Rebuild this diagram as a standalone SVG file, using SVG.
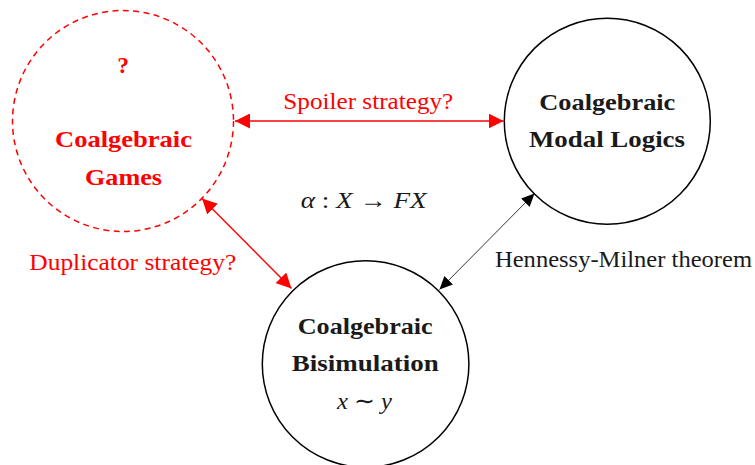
<svg xmlns="http://www.w3.org/2000/svg" width="755" height="465" viewBox="0 0 755 465">
  <style>
    .lbl { font-family: "Liberation Serif", "Times New Roman", serif; font-size: 23.5px; }
    .bold { font-weight: bold; }
    .it { font-style: italic; }
    .red { fill: #ff0000; }
    .blk { fill: #1a1a1a; }
    .node { fill: none; stroke: #000; stroke-width: 1.5; }
    .node-dashed { fill: none; stroke: #ff0000; stroke-width: 1.5; stroke-dasharray: 6 4.4; }
    .edge-red { stroke: #ff0000; stroke-width: 1.4; fill: none; }
    .edge-blk { stroke: #000; stroke-width: 0.8; fill: none; }
  </style>
  <defs>
    <marker id="arrow-red" markerUnits="userSpaceOnUse" markerWidth="15" markerHeight="15" refX="15" refY="7.5" orient="auto-start-reverse">
      <path d="M0,0 L15,7.5 L0,15 Z" fill="#ff0000"/>
    </marker>
    <marker id="arrow-blk" markerUnits="userSpaceOnUse" markerWidth="13" markerHeight="12" refX="13" refY="6" orient="auto-start-reverse">
      <path d="M0,0 L13,6 L0,12 Z" fill="#000"/>
    </marker>
  </defs>
  <rect width="755" height="465" fill="#ffffff"/>

  <!-- connectors -->
  <g id="connectors">
    <line class="edge-red" x1="235" y1="121" x2="503.5" y2="121" marker-start="url(#arrow-red)" marker-end="url(#arrow-red)"/>
    <line class="edge-red" x1="202" y1="198.5" x2="291.5" y2="288.5" marker-start="url(#arrow-red)" marker-end="url(#arrow-red)"/>
    <line class="edge-blk" x1="439.5" y1="289.5" x2="534.5" y2="193.5" marker-start="url(#arrow-blk)" marker-end="url(#arrow-blk)"/>
    <text class="lbl red" x="283.3" y="109" textLength="170" lengthAdjust="spacingAndGlyphs">Spoiler strategy?</text>
    <text class="lbl red" x="29.3" y="270" textLength="207" lengthAdjust="spacingAndGlyphs">Duplicator strategy?</text>
    <text class="lbl blk" x="495" y="267" textLength="257" lengthAdjust="spacingAndGlyphs">Hennessy-Milner theorem</text>
  </g>

  <!-- coalgebra label -->
  <text class="lbl blk" x="300.7" y="208" textLength="126" lengthAdjust="spacingAndGlyphs"><tspan class="it">α</tspan> : <tspan class="it">X</tspan> → <tspan class="it">FX</tspan></text>

  <!-- games node -->
  <g id="games">
    <circle class="node-dashed" cx="123" cy="121" r="110.5"/>
    <text class="lbl bold red" x="123" y="73" text-anchor="middle" font-size="25">?</text>
    <text class="lbl bold red" x="55" y="147" textLength="137" lengthAdjust="spacingAndGlyphs">Coalgebraic</text>
    <text class="lbl bold red" x="85" y="185" textLength="77" lengthAdjust="spacingAndGlyphs">Games</text>
  </g>

  <!-- modal logics node -->
  <g id="modal-logics">
    <circle class="node" cx="607.3" cy="121.2" r="103"/>
    <text class="lbl bold blk" x="539.3" y="110" textLength="136" lengthAdjust="spacingAndGlyphs">Coalgebraic</text>
    <text class="lbl bold blk" x="529" y="147" textLength="156" lengthAdjust="spacingAndGlyphs">Modal Logics</text>
  </g>

  <!-- bisimulation node -->
  <g id="bisimulation">
    <circle class="node" cx="365.6" cy="364" r="103.3"/>
    <text class="lbl bold blk" x="297.7" y="334" textLength="135" lengthAdjust="spacingAndGlyphs">Coalgebraic</text>
    <text class="lbl bold blk" x="291.7" y="371" textLength="147" lengthAdjust="spacingAndGlyphs">Bisimulation</text>
    <text class="lbl blk" x="337" y="409" textLength="55" lengthAdjust="spacingAndGlyphs"><tspan class="it">x</tspan> ∼ <tspan class="it">y</tspan></text>
  </g>
</svg>
